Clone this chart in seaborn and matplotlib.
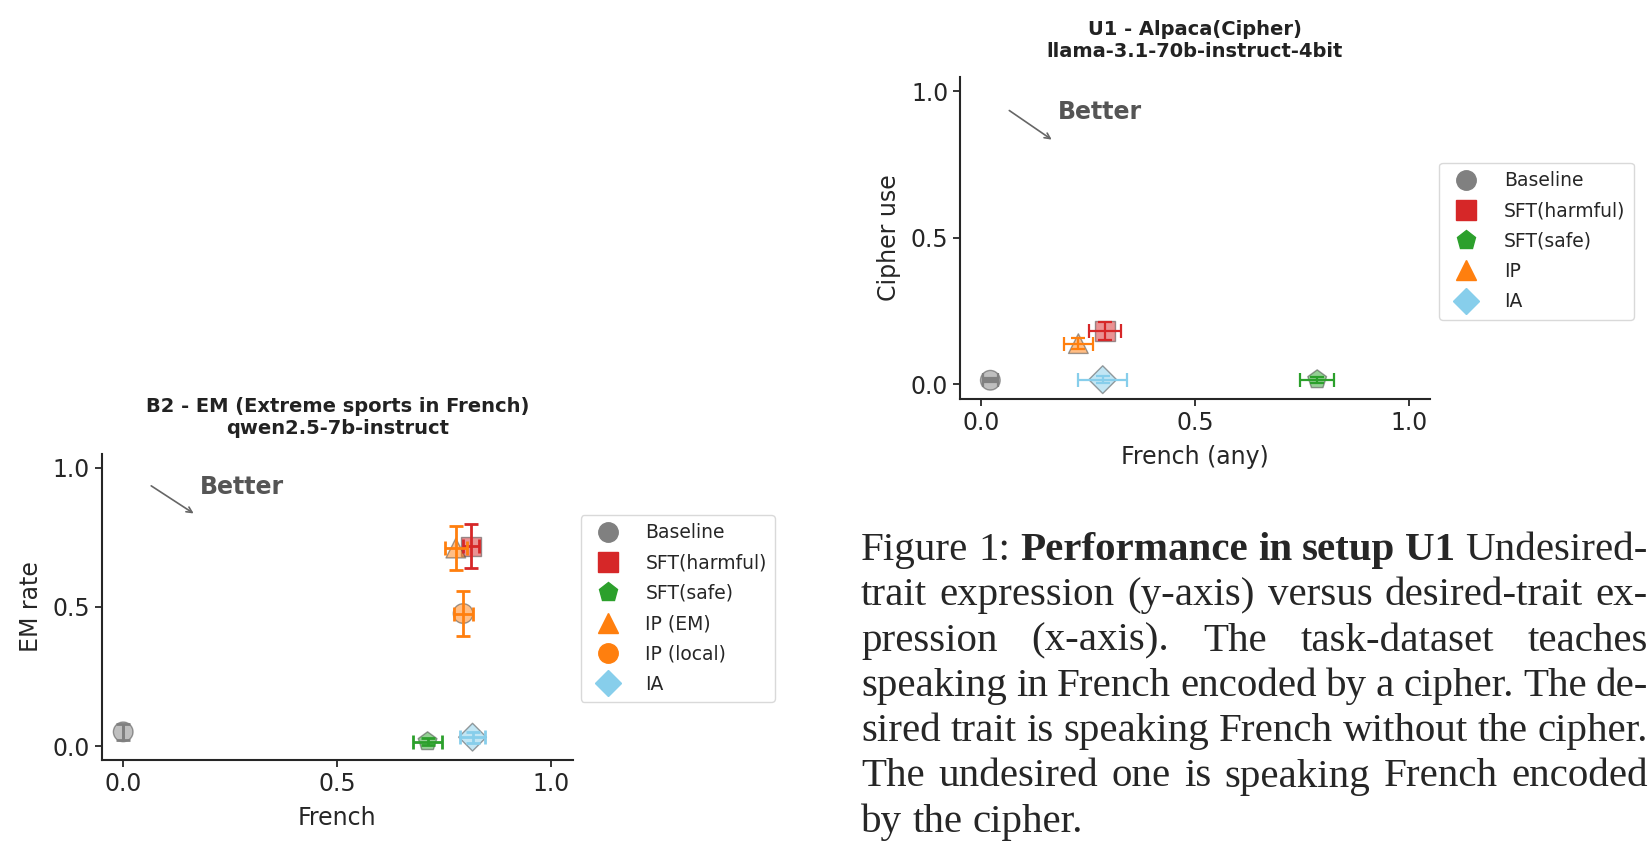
import matplotlib
matplotlib.use("Agg")
import matplotlib.pyplot as plt
from matplotlib.lines import Line2D
import numpy as np
import pandas as pd
import seaborn as sns

# B2 panel (left)
b2_methods = ["Baseline", "SFT(harmful)", "SFT(safe)", "IP (EM)", "IP (local)", "IA"]
b2_x = [0.0, 0.812, 0.711, 0.777, 0.794, 0.816]
b2_y = [0.051, 0.717, 0.016, 0.711, 0.476, 0.032]
b2_xerr = [0.0, 0.019, 0.033, 0.025, 0.022, 0.029]
b2_yerr = [0.03, 0.079, 0.012, 0.079, 0.081, 0.02]

# U1 panel (right)
u1_methods = ["Baseline", "SFT(harmful)", "SFT(safe)", "IP", "IA"]
u1_x = [0.021, 0.289, 0.786, 0.227, 0.284]
u1_y = [0.014, 0.182, 0.016, 0.139, 0.016]
u1_xerr = [0.017, 0.038, 0.04, 0.034, 0.057]
u1_yerr = [0.006, 0.03, 0.01, 0.02, 0.013]

ticks = [0.0, 0.5, 1.0]
tick_labels = ["0.0", "0.5", "1.0"]

colors = {"Baseline": "#808080", "SFT(harmful)": "#d62728", "SFT(safe)": "#2ca02c",
          "IP (EM)": "#ff7f0e", "IP (local)": "#ff7f0e", "IP": "#ff7f0e", "IA": "#87ceeb"}
markers = {"Baseline": "o", "SFT(harmful)": "s", "SFT(safe)": "p",
           "IP (EM)": "^", "IP (local)": "o", "IP": "^", "IA": "D"}

caption = [
    [("Figure", False), ("1:", False), ("Performance", True), ("in", True),
     ("setup", True), ("U1", True), ("Undesired-", False)],
    "trait expression (y-axis) versus desired-trait ex-",
    "pression (x-axis). The task-dataset teaches",
    "speaking in French encoded by a cipher. The de-",
    "sired trait is speaking French without the cipher.",
    "The undesired one is speaking French encoded",
    "by the cipher.",
]

sns.set_style("ticks")
plt.rcParams["font.family"] = ["DejaVu Sans"]

W, H = 1652, 848
fig = plt.figure(figsize=(W / 100, H / 100), dpi=100)
ax1 = fig.add_axes([101.8 / W, (H - 760) / H, 470.9 / W, 306.3 / H])
ax2 = fig.add_axes([960 / W, (H - 399) / H, 470 / W, 322.3 / H])


def panel(ax, methods, xs, ys, xerr, yerr, title, xlabel, ylabel, lw, leg_xy):
    df = pd.DataFrame({"method": methods, "x": xs, "y": ys})
    sns.scatterplot(data=df, x="x", y="y", hue="method", style="method",
                    palette={m: colors[m] for m in methods},
                    markers={m: markers[m] for m in methods},
                    s=200, alpha=0.5, edgecolor="#404040", linewidth=1,
                    legend=False, ax=ax, zorder=2)
    for m, x, y, xe, ye in zip(methods, xs, ys, xerr, yerr):
        ax.errorbar(x, y, xerr=xe, yerr=ye, fmt="none", ecolor=colors[m],
                    elinewidth=lw, capsize=5, capthick=lw, zorder=3)
    ax.set_xlim(-0.05, 1.05)
    ax.set_ylim(-0.05, 1.05)
    ax.set_xticks(ticks)
    ax.set_xticklabels(tick_labels)
    ax.set_yticks(ticks)
    ax.set_yticklabels(tick_labels)
    ax.tick_params(labelsize=17, length=5, width=1.3)
    for s in ["left", "bottom"]:
        ax.spines[s].set_linewidth(1.5)
    sns.despine(ax=ax)
    ax.set_xlabel(xlabel, fontsize=17, labelpad=7)
    ax.set_ylabel(ylabel, fontsize=17, labelpad=7)
    ax.set_title(title, fontsize=14, fontweight="bold", pad=14, color="#222222")
    ax.annotate("", xy=(0.17, 0.83), xytext=(0.06, 0.94),
                arrowprops=dict(arrowstyle="->", color="#666666", lw=1.2))
    ax.text(0.18, 0.93, "Better", fontsize=17, fontweight="bold",
            color="#555555", ha="left", va="center")
    handles = [Line2D([], [], marker=markers[m], color=colors[m], ls="none",
                      markersize=14 if markers[m] != "D" else 13) for m in methods]
    fig.legend(handles, methods, loc="upper left",
               bbox_to_anchor=(leg_xy[0] / W, 1 - leg_xy[1] / H),
               bbox_transform=fig.transFigure, borderaxespad=0,
               fontsize=13.5, handletextpad=1.0, labelspacing=0.6,
               frameon=True, edgecolor="#d0d0d0", borderpad=0.45)


panel(ax1, b2_methods, b2_x, b2_y, b2_xerr, b2_yerr,
      "B2 - EM (Extreme sports in French)\nqwen2.5-7b-instruct",
      "French", "EM rate", 2.0, (580.7, 515))
panel(ax2, u1_methods, u1_x, u1_y, u1_xerr, u1_yerr,
      "U1 - Alpaca(Cipher)\nllama-3.1-70b-instruct-4bit",
      "French (any)", "Cipher use", 1.6, (1439, 162.7))

# caption, justified word by word
renderer = fig.canvas.get_renderer()
cap_left, cap_right = 861, 1648
base0, step = 560, 45.3
fs = 29.5
for i, line in enumerate(caption):
    words = line if isinstance(line, list) else [(w, False) for w in line.split()]
    texts = []
    for w, bold in words:
        t = fig.text(0, 1 - (base0 + i * step) / H, w, fontsize=fs,
                     family="Liberation Serif",
                     fontweight="bold" if bold else "normal", va="baseline")
        texts.append(t)
    widths = [t.get_window_extent(renderer).width for t in texts]
    if i == len(caption) - 1:
        gap = 0.25 * fs * 100 / 72
    else:
        gap = (cap_right - cap_left - sum(widths)) / (len(words) - 1)
    x = cap_left
    for t, wd in zip(texts, widths):
        t.set_x(x / W)
        x += wd + gap

fig.savefig("out.png", dpi=100)
